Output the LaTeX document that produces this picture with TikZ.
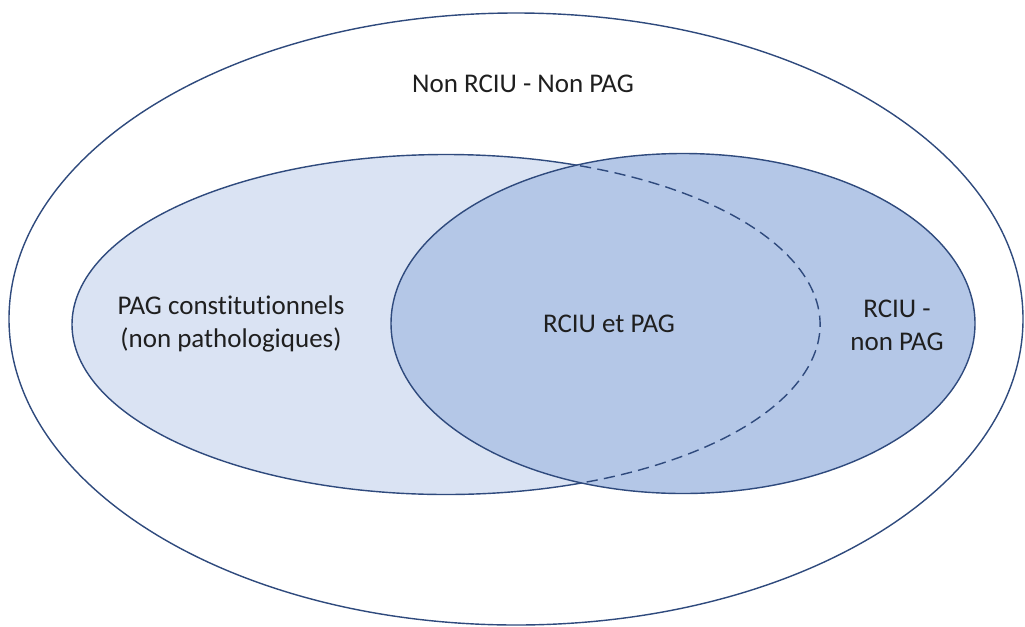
\documentclass[tikz,border=0pt]{standalone}
\usepackage{fontspec}
\setmainfont{Carlito}[RawFeature={-liga;-clig;-rlig;-dlig;-calt}]
\usepackage{tikz}
\definecolor{setline}{RGB}{47,74,125}
\definecolor{setlight}{RGB}{218,227,243}
\definecolor{setdark}{RGB}{180,199,231}
\tikzset{
  setborder/.style={draw=setline, line width=1pt},
  setlabel/.style={align=center, font=\fontsize{19.2}{23.5}\selectfont, text=black!88}
}

\begin{document}
\begin{tikzpicture}[x=0.025cm, y=-0.025cm]
		%%%%% START %%%%%
		\useasboundingbox (0, 0) rectangle (1025, 626);
		
		% outer set
		\draw[setborder, fill=white] (516, 319) ellipse [x radius=507, y radius=306];
		
		% PAG
		\draw[setborder, fill=setlight] (446, 324.5) ellipse [x radius=374, y radius=170];
		
		% RCIU
		\draw[setborder, fill=setdark] (683, 323.5) ellipse [x radius=292, y radius=170];
		
		% hidden edge of PAG
		\draw[setborder, dash pattern=on 8pt off 4.5pt] (446, 324.5) ++(-69:374 and 170)
			arc [start angle=-69, end angle=69, x radius=374, y radius=170];
		
		\node[setlabel] (outerlbl) at (523, 84) {Non RCIU - Non PAG};
		\node[setlabel] (paglbl) at (231, 324) {PAG constitutionnels\\(non pathologiques)};
		\node[setlabel] (bothlbl) at (609, 324) {RCIU et PAG};
		\node[setlabel] (rciulbl) at (897, 325) {RCIU -\\non PAG};
		%%%%% END %%%%%
	\end{tikzpicture}
\end{document}
